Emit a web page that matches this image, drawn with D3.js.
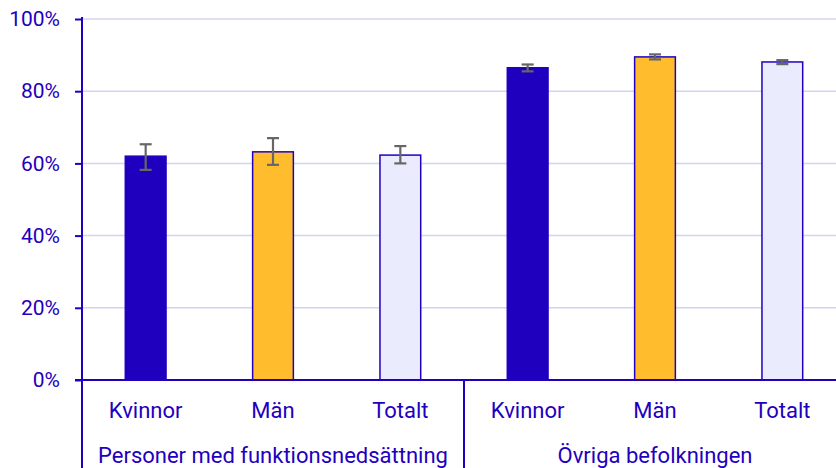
<!DOCTYPE html>
<html lang="sv">
<head>
<meta charset="UTF-8">
<title>Andel per grupp</title>
<script src="https://cdn.jsdelivr.net/npm/d3@7"></script>
<style>
  body { margin: 0; background: #fff; }
  text { font-family: Roboto, "Noto Sans", sans-serif; fill: #1e00be; }
</style>
</head>
<body>
<svg width="836" height="468"></svg>
<script>
// data
const groups = ["Personer med funktionsnedsättning", "Övriga befolkningen"];
const categories = ["Kvinnor", "Män", "Totalt"];
const values = [[62.0, 63.2, 62.3], [86.5, 89.5, 88.1]];
const errLow = [[58.2, 59.6, 60.0], [85.5, 88.8, 87.5]];
const errHigh = [[65.3, 67.0, 64.8], [87.4, 90.2, 88.6]];
const yTicks = [0, 20, 40, 60, 80, 100];

const fills = {"Kvinnor": "#1e00be", "Män": "#ffbd2e", "Totalt": "#ebebfe"};
const blue = "#2200c0";

const width = 836, height = 468;
// plot area runs a bit past the right edge of the picture
const margin = {left: 82, top: 19, bottom: 88};
const plotRight = 846;

const svg = d3.select("svg");

const rows = [];
groups.forEach((g, gi) => categories.forEach((c, ci) => {
  rows.push({key: gi + "-" + c, group: g, gi, cat: c,
    value: values[gi][ci], lo: errLow[gi][ci], hi: errHigh[gi][ci]});
}));

const x = d3.scaleBand()
  .domain(rows.map(d => d.key))
  .range([margin.left, plotRight])
  .paddingInner(0.68).paddingOuter(0.34);

const y = d3.scaleLinear().domain([0, 100]).range([height - margin.bottom, margin.top]);

// gridlines
svg.append("g").selectAll("line")
  .data(yTicks.filter(t => t > 0))
  .join("line")
  .attr("x1", margin.left).attr("x2", width)
  .attr("y1", d => y(d)).attr("y2", d => y(d))
  .attr("stroke", "#d4d4f2").attr("stroke-width", 1.5);

// y axis
const yAxis = svg.append("g")
  .attr("transform", `translate(${margin.left},0)`)
  .call(d3.axisLeft(y).tickValues(yTicks).tickFormat(d => d + "%").tickSize(7).tickSizeOuter(0));
yAxis.select(".domain").remove();
yAxis.selectAll(".tick line").attr("stroke", blue).attr("stroke-width", 2);
yAxis.selectAll(".tick text").attr("x", -22).attr("font-size", 21).attr("fill", "#1e00be");

// bars
svg.append("g").selectAll("rect")
  .data(rows)
  .join("rect")
  .attr("x", d => x(d.key))
  .attr("y", d => y(d.value))
  .attr("width", x.bandwidth())
  .attr("height", d => y(0) - y(d.value))
  .attr("fill", d => fills[d.cat])
  .attr("stroke", blue)
  .attr("stroke-width", 1.5);

// error bars
const eb = svg.append("g").attr("stroke", "#666").attr("stroke-width", 2.2);
rows.forEach(d => {
  const cx = x(d.key) + x.bandwidth() / 2;
  eb.append("line").attr("x1", cx).attr("x2", cx).attr("y1", y(d.hi)).attr("y2", y(d.lo));
  eb.append("line").attr("x1", cx - 6).attr("x2", cx + 6).attr("y1", y(d.hi)).attr("y2", y(d.hi));
  eb.append("line").attr("x1", cx - 6).attr("x2", cx + 6).attr("y1", y(d.lo)).attr("y2", y(d.lo));
});

// axis lines
svg.append("line")
  .attr("x1", margin.left).attr("x2", margin.left)
  .attr("y1", margin.top - 2).attr("y2", height)
  .attr("stroke", blue).attr("stroke-width", 2);
svg.append("line")
  .attr("x1", margin.left - 7).attr("x2", width)
  .attr("y1", y(0)).attr("y2", y(0))
  .attr("stroke", blue).attr("stroke-width", 2);

// group divider
const groupWidth = (plotRight - margin.left) / groups.length;
svg.append("line")
  .attr("x1", margin.left + groupWidth).attr("x2", margin.left + groupWidth)
  .attr("y1", y(0)).attr("y2", height)
  .attr("stroke", blue).attr("stroke-width", 2);

// category labels
svg.append("g").selectAll("text")
  .data(rows)
  .join("text")
  .attr("x", d => x(d.key) + x.bandwidth() / 2)
  .attr("y", 418)
  .attr("text-anchor", "middle")
  .attr("font-size", 22)
  .text(d => d.cat);

// group labels
svg.append("g").selectAll("text")
  .data(groups)
  .join("text")
  .attr("x", (d, i) => margin.left + groupWidth * (i + 0.5))
  .attr("y", 463)
  .attr("text-anchor", "middle")
  .attr("font-size", 22)
  .text(d => d);
</script>
</body>
</html>
